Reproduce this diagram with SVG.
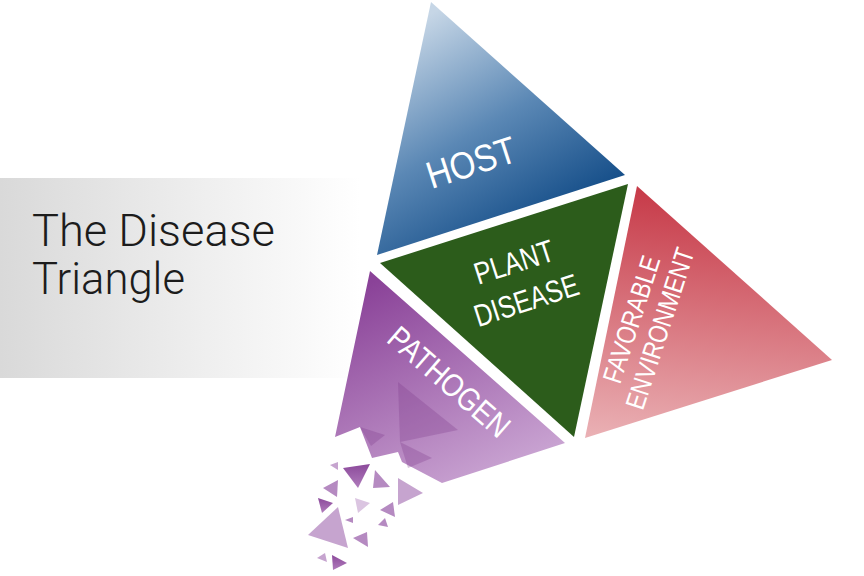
<svg xmlns="http://www.w3.org/2000/svg" width="864" height="576" viewBox="0 0 864 576">
<defs>
<linearGradient id="gPanel" x1="0" y1="0" x2="360" y2="0" gradientUnits="userSpaceOnUse">
<stop offset="0" stop-color="#d9d9d9"/><stop offset="0.55" stop-color="#eeeeee"/><stop offset="1" stop-color="#ffffff"/>
</linearGradient>
<linearGradient id="gBlue" x1="420" y1="20" x2="545" y2="235" gradientUnits="userSpaceOnUse">
<stop offset="0" stop-color="#c6d6e6"/><stop offset="0.5" stop-color="#5b88b5"/><stop offset="1" stop-color="#0f4985"/>
</linearGradient>
<linearGradient id="gRed" x1="640" y1="190" x2="615" y2="440" gradientUnits="userSpaceOnUse">
<stop offset="0" stop-color="#c73b49"/><stop offset="1" stop-color="#eab1b5"/>
</linearGradient>
<linearGradient id="gPurple" x1="375" y1="280" x2="470" y2="485" gradientUnits="userSpaceOnUse">
<stop offset="0" stop-color="#8a4298"/><stop offset="1" stop-color="#c8a2d1"/>
</linearGradient>
<linearGradient id="gFragDark" x1="0" y1="0" x2="0" y2="1">
<stop offset="0" stop-color="#8c4a9b"/><stop offset="1" stop-color="#b07cbc"/>
</linearGradient>
<style>
.lbl{fill:#ffffff;font-family:"Liberation Sans","Arial",sans-serif;text-anchor:middle}
.title{fill:#1c1c1c;font-family:"Roboto","Liberation Sans",sans-serif;font-weight:300;font-size:44px}
.dk{fill:url(#gFragDark)}
.md{fill:#b58ac1}
.lt{fill:#c6a4cf}
.vl{fill:#dbc5e1}
.ov{fill:#7d3a8c;opacity:0.3}
</style>
</defs>

<g id="title">
<rect x="0" y="178" width="372" height="200" fill="url(#gPanel)"/>
<text class="title" x="32" y="246" textLength="243" lengthAdjust="spacingAndGlyphs">The Disease</text>
<text class="title" x="32" y="294" textLength="153" lengthAdjust="spacingAndGlyphs">Triangle</text>
</g>

<g id="host">
<polygon points="431,2 625,175 377,255" fill="url(#gBlue)"/>
<g transform="translate(471,162) rotate(-18)">
<text class="lbl" x="0" y="13.5" font-size="38" textLength="92" lengthAdjust="spacingAndGlyphs">HOST</text>
</g>
</g>

<g id="plant-disease">
<polygon points="380,263 628,184 574,437" fill="#2c5c1b"/>
<g transform="translate(520,281) rotate(-18)">
<text class="lbl" x="0" y="-9" font-size="31" textLength="82" lengthAdjust="spacingAndGlyphs">PLANT</text>
<text class="lbl" x="0" y="31" font-size="31" textLength="108" lengthAdjust="spacingAndGlyphs">DISEASE</text>
</g>
</g>

<g id="environment">
<polygon points="637,186 832,360 585,438" fill="url(#gRed)"/>
<g transform="translate(646,324) rotate(-72)">
<text class="lbl" x="0" y="-6" font-size="27" textLength="132" lengthAdjust="spacingAndGlyphs">FAVORABLE</text>
<text class="lbl" x="0" y="24" font-size="27" textLength="168" lengthAdjust="spacingAndGlyphs">ENVIRONMENT</text>
</g>
</g>

<g id="pathogen">
<polygon points="370,271 565,443 442,483 402,462 398,452 372,458 360,427 335,437" fill="url(#gPurple)"/>
<polygon class="ov" points="398,382 458,430 400,442"/>
<polygon class="ov" points="360,427 385,435 371,446"/>
<polygon class="ov" points="400,442 432,458 408,468"/>
<g transform="translate(449,382) rotate(41)">
<text class="lbl" x="0" y="11" font-size="32" textLength="150" lengthAdjust="spacingAndGlyphs">PATHOGEN</text>
</g>
</g>

<g id="fragments">
<polygon class="lt" points="330,465 338,462 338,470"/>
<polygon class="dk" points="343,468 370,464 358,488"/>
<polygon class="md" points="375,470 390,487 373,488"/>
<polygon class="lt" points="398,478 423,493 398,505"/>
<polygon class="md" points="323,488 338,480 337,497"/>
<polygon class="dk" points="318,498 333,503 322,513"/>
<polygon class="vl" points="355,498 370,503 358,513"/>
<polygon class="md" points="380,510 393,502 395,517"/>
<polygon class="lt" points="308,535 338,507 348,548"/>
<polygon class="md" points="345,520 353,517 353,523"/>
<polygon class="md" points="378,525 385,518 388,527"/>
<polygon class="md" points="353,538 367,532 368,547"/>
<polygon class="lt" points="317,558 325,553 327,562"/>
<polygon class="dk" points="332,555 347,563 333,570"/>
</g>
</svg>
